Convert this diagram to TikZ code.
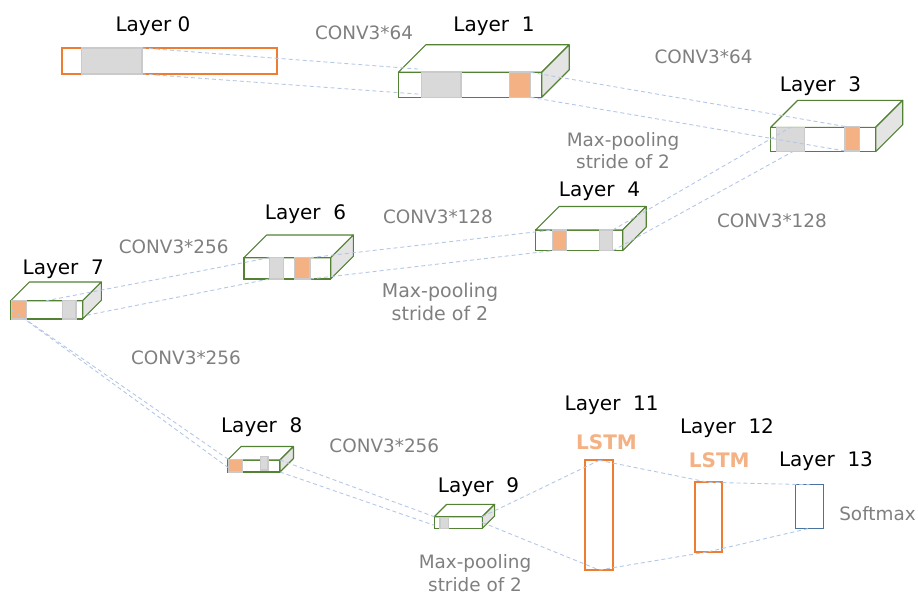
\documentclass[tikz,border=0pt]{standalone}
\usepackage{fontspec}
\setmainfont{DejaVu Sans}
\usetikzlibrary{fit,calc}

\definecolor{boxgreen}{HTML}{548235}
\definecolor{sidegray}{HTML}{E4E4E4}
\definecolor{blkgray}{HTML}{D9D9D9}
\definecolor{blkedge}{HTML}{CACACA}
\definecolor{blkorange}{HTML}{F4B183}
\definecolor{lineorange}{HTML}{ED7D31}
\definecolor{lineblue}{HTML}{4A74A0}
\definecolor{linkblue}{HTML}{B4C7E7}
\definecolor{textgray}{HTML}{7F7F7F}

% a feature-map box: front face as a node, then its top and side faces
\newcommand\cuboid[4]{%
  \node[frontface, fit={#2 #3}] (#1) {};
  \draw[topface] (#1.north west) -- ++(#4,-#4) -- ($(#1.north east)+(#4,-#4)$)
    -- (#1.north east) -- cycle;
  \draw[sideface] (#1.north east) -- ++(#4,-#4) -- ($(#1.south east)+(#4,-#4)$)
    -- (#1.south east) -- cycle;
}

\begin{document}
\begin{tikzpicture}[x=1pt,y=-1pt,
  frontface/.style={draw=boxgreen, line width=1.1pt, fill=white, inner sep=0pt, outer sep=0pt},
  topface/.style={draw=boxgreen, line width=1.1pt, fill=white, line join=round},
  sideface/.style={draw=boxgreen, line width=1.1pt, fill=sidegray, line join=round},
  grayblk/.style={draw=blkedge, line width=1.2pt, fill=blkgray, inner sep=0pt, outer sep=0pt},
  orangeblk/.style={draw=blkedge, line width=1.2pt, fill=blkorange, inner sep=0pt, outer sep=0pt},
  flatmap/.style={draw=lineorange, line width=1.8pt, fill=white, inner sep=0pt, outer sep=0pt},
  lstmcell/.style={draw=lineorange, line width=1.8pt, fill=white, inner sep=0pt, outer sep=0pt},
  outcell/.style={draw=lineblue, line width=1.2pt, fill=white, inner sep=0pt, outer sep=0pt},
  link/.style={draw=linkblue, line width=0.9pt, dash pattern=on 4pt off 3pt},
  layer/.style={font=\fontsize{20}{24}\selectfont, anchor=base, inner sep=0pt},
  note/.style={font=\fontsize{18.4}{22}\selectfont, text=textgray, anchor=base, inner sep=0pt},
  bignote/.style={font=\fontsize{19}{23}\selectfont, text=textgray, anchor=base, inner sep=0pt},
  lstm/.style={font=\bfseries\fontsize{20}{24}\selectfont, text=blkorange, anchor=base, inner sep=0pt}]

\useasboundingbox (0,0) rectangle (918,594);

% Layer 0: input strip
\node[flatmap, fit={(62,48) (276.7,74)}] (L0) {};
\node[grayblk, fit={(81.3,48) (142,74)}] (b0g) {};

% Layer 1
\cuboid{L1}{(398.3,72.3)}{(541.7,97.3)}{27.5}
\node[grayblk, fit={(421.3,72.3) (461,97.3)}] (b1g) {};
\node[orangeblk, fit={(509.3,72.3) (530.7,97.3)}] (b1o) {};

% Layer 3
\cuboid{L3}{(770.7,127.3)}{(875.7,151.7)}{27}
\node[grayblk, fit={(776.7,127.3) (804.7,151.7)}] (b3g) {};
\node[orangeblk, fit={(845,126.5) (859.3,151)}] (b3o) {};

% Layer 4
\cuboid{L4}{(535.7,230)}{(622.7,250.7)}{23.5}
\node[orangeblk, fit={(552.3,230) (566.7,250.7)}] (b4o) {};
\node[grayblk, fit={(599.3,230) (612.7,250.7)}] (b4g) {};

% Layer 6
\cuboid{L6}{(244,257.7)}{(330.7,279)}{22.7}
\node[grayblk, fit={(269.3,257.7) (283.3,279)}] (b6g) {};
\node[orangeblk, fit={(294.7,257.7) (310,279)}] (b6o) {};

% Layer 7
\cuboid{L7}{(10.7,300.7)}{(82.7,319)}{18.7}
\node[orangeblk, fit={(11.7,300.7) (26.7,319)}] (b7o) {};
\node[grayblk, fit={(62.3,300.7) (76,319)}] (b7g) {};

% Layer 8
\cuboid{L8}{(227.7,460)}{(280,472)}{13.5}
\node[orangeblk, fit={(228.3,459.3) (242.7,472)}] (b8o) {};
\node[grayblk, fit={(260.7,456.3) (268,470)}] (b8g) {};

% Layer 9
\cuboid{L9}{(434.3,516.7)}{(482.3,528.3)}{12.3}
\node[grayblk, fit={(440,517.3) (448.3,528.3)}] (b9g) {};

% Layers 11-13
\node[lstmcell, fit={(585.3,460.3) (613.3,570)}] (L11) {};
\node[lstmcell, fit={(694.7,482.3) (722.3,551.7)}] (L12) {};
\node[outcell, fit={(795.7,484.7) (823.3,528.3)}] (L13) {};

% receptive-field links
\draw[link] (b0g.north east) -- ([yshift=3pt]b1g.north west);
\draw[link] (b0g.south east) -- ([yshift=3pt]b1g.south west);
\draw[link] (b1o.north east) -- (b3o.north west);
\draw[link] (b1o.south east) -- (b3o.south west);
\draw[link] (b4g.north east) -- (b3g.north);
\draw[link] (b4g.south east) -- ([xshift=2pt]b3g.south);
\draw[link] (b6o.north east) -- (b4o.north west);
\draw[link] (b6o.south east) -- (b4o.south west);
\draw[link] (b6g.north west) -- ([xshift=-16pt]b7g.north west);
\draw[link] (b6g.south west) -- ([yshift=3pt]L7.south east);
\draw[link] (b7o.west) -- (b8o.north west);
\draw[link] ([xshift=-5pt,yshift=2pt]b7o.south east) -- ([yshift=-2pt]b8o.west);
\draw[link] (L8.north east) -- (L9.north west);
\draw[link] (L8.south east) -- ([yshift=3pt]L9.south west);
\draw[link] (L9.north east) -- (L11.north);
\draw[link] (L9.east) -- (L11.south);
\draw[link] (L11.north) -- (L12.north);
\draw[link] (L11.south) -- (L12.south);
\draw[link] (L12.north) -- (L13.north);
\draw[link] (L12.south) -- (L13.south);

% layer titles
\node[layer] (t0) at (153,31.7) {Layer 0};
\node[layer] (t1) at (494,31.7) {Layer~~1};
\node[layer] (t3) at (820.5,91.7) {Layer~~3};
\node[layer] (t4) at (599.5,196) {Layer~~4};
\node[layer] (t6) at (305.5,219.5) {Layer~~6};
\node[layer] (t7) at (63.3,274.3) {Layer~~7};
\node[layer] (t8) at (261.7,432.7) {Layer~~8};
\node[layer] (t9) at (478.5,492.3) {Layer~~9};
\node[layer] (t11) at (611.7,410) {Layer~~11};
\node[layer] (t12) at (727,433.3) {Layer~~12};
\node[layer] (t13) at (826,466) {Layer~~13};
\node[lstm] (s11) at (606.5,449) {LSTM};
\node[lstm] (s12) at (719.3,467.3) {LSTM};

% operation notes
\node[note] (c1) at (364,39.3) {CONV3*64};
\node[note] (c2) at (703.5,63.5) {CONV3*64};
\node[note] (p1a) at (623,146.7) {Max-pooling};
\node[note] (p1b) at (623,168) {stride of 2};
\node[note] (c3) at (772,227.6) {CONV3*128};
\node[note] (c4) at (438,223.6) {CONV3*128};
\node[note] (c5) at (173.7,253.3) {CONV3*256};
\node[bignote] (p2a) at (440,297.3) {Max-pooling};
\node[bignote] (p2b) at (440,320) {stride of 2};
\node[note] (c6) at (186,364.6) {CONV3*256};
\node[note] (c7) at (384.3,452.3) {CONV3*256};
\node[note] (p3a) at (475,568.6) {Max-pooling};
\node[note] (p3b) at (475,591) {stride of 2};
\node[note] (sm) at (877.5,520.7) {Softmax};

\end{tikzpicture}
\end{document}
